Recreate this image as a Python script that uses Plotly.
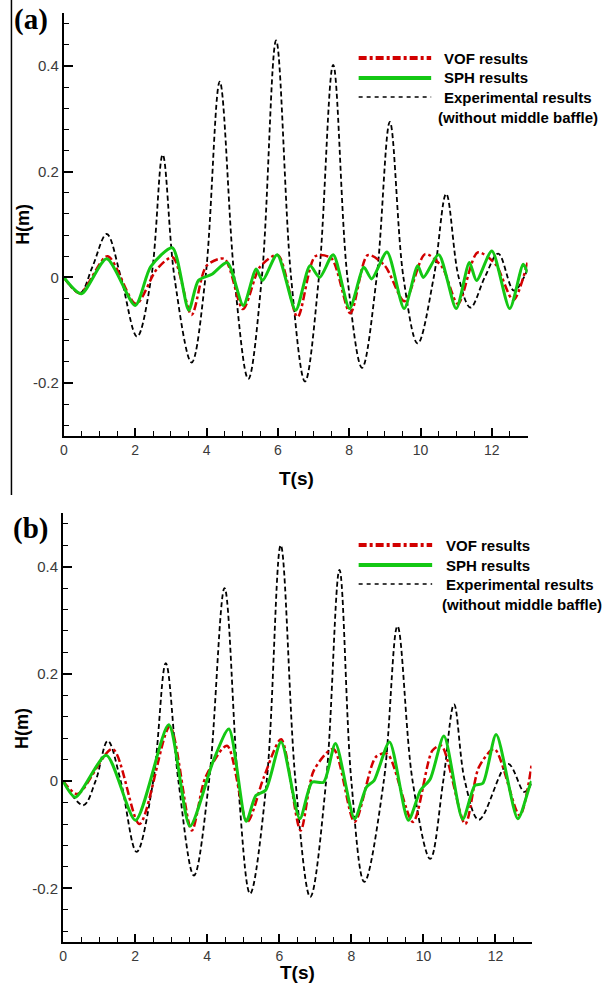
import plotly.graph_objects as go

W, H = 607, 984

# ---------------- data: panel (a) ----------------
exp_a_t = [0, 0.45, 0.8, 1.2, 1.6, 2.05, 2.45, 2.77, 3.1, 3.58, 3.97, 4.37, 4.78, 5.17, 5.55, 5.95,
           6.37, 6.76, 7.15, 7.55, 7.95, 8.36, 8.77, 9.14, 9.52, 9.92, 10.37, 10.72, 11.07, 11.4,
           11.8, 12.18, 12.62, 13.0]
exp_a_h = [0, -0.03, 0.02, 0.082, 0.0, -0.112, 0.0, 0.232, 0.0, -0.161, 0.0, 0.37, 0.0, -0.192, 0.0, 0.448,
           0.0, -0.197, 0.0, 0.402, 0.0, -0.171, 0.0, 0.294, 0.0, -0.125, 0.0, 0.158, 0.0, -0.057,
           0.0, 0.045, -0.025, 0.015]

vof_a_t = [0, 0.45, 1.22, 2.02, 2.6, 3.05, 3.58, 4.0, 4.5, 5.02, 5.5, 6.0, 6.55, 7.05, 7.5, 8.03,
           8.52, 9.0, 9.55, 10.13, 10.6, 11.05, 11.6, 12.1, 12.6, 13.0]
vof_a_h = [0, -0.03, 0.04, -0.05, 0.015, 0.038, -0.071, 0.022, 0.035, -0.06, 0.02, 0.042, -0.075, 0.04, 0.036, -0.068,
           0.042, 0.022, -0.045, 0.044, 0.02, -0.05, 0.047, 0.025, -0.043, 0.028]

sph_a_t = [0, 0.49, 1.2, 2.0, 2.43, 3.04, 3.5, 3.77, 4.15, 4.58, 5.03, 5.39, 5.57, 5.98, 6.5, 6.9,
           7.17, 7.55, 8.01, 8.41, 8.63, 9.06, 9.54, 9.92, 10.08, 10.51, 11.0, 11.37, 11.57, 12.0,
           12.5, 12.88, 13.0]
sph_a_h = [0, -0.031, 0.035, -0.053, 0.02, 0.056, -0.062, -0.006, 0.006, 0.028, -0.053, 0.016, -0.006, 0.043, -0.062, 0.022,
           0.0, 0.043, -0.059, 0.019, -0.003, 0.048, -0.059, 0.022, 0.0, 0.043, -0.059, 0.028, -0.006, 0.05,
           -0.059, 0.025, 0.009]

# ---------------- data: panel (b) ----------------
exp_b_t = [0, 0.56, 0.9, 1.24, 1.6, 2.04, 2.5, 2.85, 3.2, 3.63, 4.05, 4.48, 4.85, 5.19, 5.65, 6.04,
           6.45, 6.86, 7.3, 7.67, 8.0, 8.36, 8.9, 9.28, 9.7, 10.19, 10.55, 10.85, 11.15, 11.54,
           12.35, 12.8, 13.0]
exp_b_h = [0, -0.045, 0.0, 0.075, 0.0, -0.132, 0.0, 0.22, 0.0, -0.176, 0.0, 0.36, 0.0, -0.21, 0.0, 0.44,
           0.0, -0.216, 0.0, 0.394, 0.0, -0.188, 0.0, 0.289, 0.0, -0.145, 0.0, 0.143, 0.0, -0.072,
           0.032, -0.02, -0.005]

vof_b_t = [0, 0.4, 1.37, 2.12, 2.96, 3.57, 3.95, 4.55, 5.11, 5.57, 6.05, 6.59, 6.96, 7.5, 8.09,
           8.68, 9.0, 9.71, 10.25, 10.5, 11.16, 11.54, 11.97, 12.67, 13.0]
vof_b_h = [0, -0.024, 0.06, -0.08, 0.102, -0.092, 0.007, 0.066, -0.076, 0.007, 0.078, -0.092, 0.02, 0.06, -0.076,
           0.045, 0.051, -0.076, 0.057, 0.066, -0.08, 0.026, 0.06, -0.064, 0.029]

sph_b_t = [0, 0.34, 1.2, 2.01, 2.93, 3.52, 4.17, 4.6, 5.08, 5.35, 5.62, 6.05, 6.57, 6.91, 7.23, 7.56,
           8.09, 8.42, 8.63, 9.06, 9.58, 9.92, 10.19, 10.57, 11.09, 11.43, 11.65, 12.02, 12.62,
           12.94, 13.0]
sph_b_h = [0, -0.03, 0.048, -0.073, 0.105, -0.084, 0.038, 0.097, -0.075, -0.027, -0.017, 0.073, -0.07, -0.002, -0.002, 0.07,
           -0.07, -0.011, 0.001, 0.073, -0.073, -0.017, 0.004, 0.084, -0.071, -0.008, -0.004, 0.087, -0.07,
           -0.011, 0.0]

# tick labels
y_tickvals = [-0.2, 0, 0.2, 0.4]
y_ticktext = ["-0.2", "0", "0.2", "0.4"]
x_tickvals = [0, 2, 4, 6, 8, 10, 12]
x_ticktext = ["0", "2", "4", "6", "8", "10", "12"]

legend_labels = ["VOF results", "SPH results", "Experimental results", "(without middle baffle)"]
panel_labels = ["(a)", "(b)"]

RED = "rgb(210,0,0)"
GREEN = "rgb(20,200,20)"
BLACK = "black"
SANS = "Liberation Sans, Arial, sans-serif"
SERIF = "Liberation Serif, Times New Roman, serif"


def px(x):
    return x / W


def py(y):
    return 1 - y / H


fig = go.Figure()

panels = [
    dict(xa="x", ya="y", exp=(exp_a_t, exp_a_h), vof=(vof_a_t, vof_a_h), sph=(sph_a_t, sph_a_h)),
    dict(xa="x2", ya="y2", exp=(exp_b_t, exp_b_h), vof=(vof_b_t, vof_b_h), sph=(sph_b_t, sph_b_h)),
]
for p in panels:
    fig.add_trace(go.Scatter(x=p["exp"][0], y=p["exp"][1], mode="lines", xaxis=p["xa"], yaxis=p["ya"],
                             line=dict(color=BLACK, width=1.8, dash="5px,3px", shape="spline", smoothing=1.0),
                             showlegend=False, name="Experimental results"))
    fig.add_trace(go.Scatter(x=p["vof"][0], y=p["vof"][1], mode="lines", xaxis=p["xa"], yaxis=p["ya"],
                             line=dict(color=RED, width=2.5, dash="8px,3px,3px,3px", shape="spline", smoothing=0.8),
                             showlegend=False, name="VOF results"))
    fig.add_trace(go.Scatter(x=p["sph"][0], y=p["sph"][1], mode="lines", xaxis=p["xa"], yaxis=p["ya"],
                             line=dict(color=GREEN, width=3, shape="spline", smoothing=0.7),
                             showlegend=False, name="SPH results"))

# plot areas in pixels: (left, right, top, bottom)
areas = [(60.3, 527, 13, 436), (59.5, 531, 513, 942)]


def xaxis_cfg(area, anchor):
    return dict(domain=[px(area[0]), px(area[1])], range=[0, 13], anchor=anchor,
                showline=True, linecolor="black", linewidth=2, showgrid=False, zeroline=False,
                tickmode="array", tickvals=x_tickvals, ticktext=x_ticktext,
                ticks="inside", ticklen=8, tickwidth=2, tickcolor="black",
                tickfont=dict(family=SANS, size=14, color="#3a3a3a"),
                minor=dict(dtick=0.5, tick0=0, ticks="inside", ticklen=5, tickwidth=1.2, tickcolor="black",
                           showgrid=False))


def yaxis_cfg(area, anchor):
    return dict(domain=[py(area[3]), py(area[2])], range=[-0.3, 0.5], anchor=anchor,
                showline=True, linecolor="black", linewidth=2, showgrid=False, zeroline=False,
                tickmode="array", tickvals=y_tickvals, ticktext=y_ticktext,
                ticks="inside", ticklen=9, tickwidth=2, tickcolor="black",
                tickfont=dict(family=SANS, size=15, color="#3a3a3a"),
                minor=dict(dtick=0.04, tick0=0, ticks="inside", ticklen=5, tickwidth=1.2, tickcolor="black",
                           showgrid=False))


fig.update_layout(
    width=W, height=H, margin=dict(l=0, r=0, t=0, b=0),
    paper_bgcolor="white", plot_bgcolor="white", showlegend=False,
    xaxis=xaxis_cfg(areas[0], "y"), yaxis=yaxis_cfg(areas[0], "x"),
    xaxis2=xaxis_cfg(areas[1], "y2"), yaxis2=yaxis_cfg(areas[1], "x2"),
)

annotations = []
shapes = []

# axis titles and panel labels
title_pos = [dict(tx=294, ty=478, hx=19, hy=224, lx=27, ly=20),
             dict(tx=295, ty=972, hx=18, hy=728, lx=27, ly=528)]
for i, tp in enumerate(title_pos):
    annotations.append(dict(text="<b>T(s)</b>", x=px(tp["tx"]), y=py(tp["ty"]), xref="paper", yref="paper",
                            xanchor="center", yanchor="middle", showarrow=False,
                            font=dict(family=SANS, size=19, color="black")))
    annotations.append(dict(text="<b>H(m)</b>", x=px(tp["hx"]), y=py(tp["hy"]), xref="paper", yref="paper",
                            xanchor="center", yanchor="middle", showarrow=False, textangle=-90,
                            font=dict(family=SANS, size=18, color="black")))
    annotations.append(dict(text="<b>" + panel_labels[i] + "</b>", x=px(tp["lx"]), y=py(tp["ly"]),
                            xref="paper", yref="paper", xanchor="center", yanchor="middle", showarrow=False,
                            font=dict(family=SERIF, size=29, color="black")))

# manual legends
legend_pos = [dict(x0=357, x1=430, rows=[58, 78, 97, 117], tx=441, tx4=435),
              dict(x0=357, x1=431, rows=[545, 565, 584, 604], tx=443, tx4=439)]
styles = [dict(color=RED, width=4, dash="8px,3px,3px,3px"),
          dict(color=GREEN, width=4, dash="solid"),
          dict(color=BLACK, width=1.6, dash="4px,4px")]
for lp in legend_pos:
    for k in range(3):
        shapes.append(dict(type="line", xref="paper", yref="paper",
                           x0=px(lp["x0"]), x1=px(lp["x1"]), y0=py(lp["rows"][k]), y1=py(lp["rows"][k]),
                           line=styles[k]))
        annotations.append(dict(text="<b>" + legend_labels[k] + "</b>", x=px(lp["tx"]), y=py(lp["rows"][k]),
                                xref="paper", yref="paper", xanchor="left", yanchor="middle", showarrow=False,
                                font=dict(family=SANS, size=15, color="black")))
    annotations.append(dict(text="<b>" + legend_labels[3] + "</b>", x=px(lp["tx4"]), y=py(lp["rows"][3]),
                            xref="paper", yref="paper", xanchor="left", yanchor="middle", showarrow=False,
                            font=dict(family=SANS, size=15, color="black")))

# left border line of panel (a)
shapes.append(dict(type="line", xref="paper", yref="paper", x0=px(7.5), x1=px(7.5), y0=py(0), y1=py(495),
                   line=dict(color="black", width=1.5)))

fig.update_layout(annotations=annotations, shapes=shapes)
fig.write_html("out.html")
